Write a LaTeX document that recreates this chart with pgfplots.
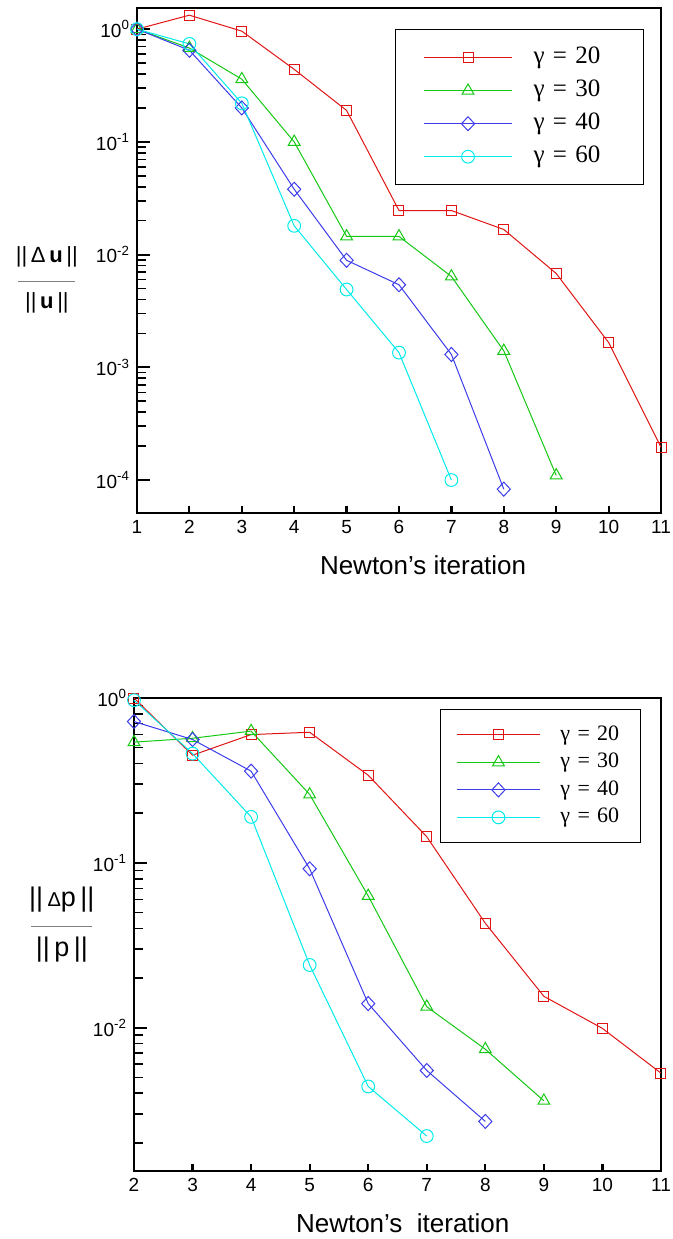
\documentclass[border=0pt]{standalone}
\usepackage{pgfplots}
\pgfplotsset{compat=1.18}
\usepackage{fontspec}
\setmainfont{Liberation Sans}
\newfontfamily\timesfont{Liberation Serif}
\definecolor{cRed}{RGB}{225,20,20}
\definecolor{cGreen}{RGB}{20,200,20}
\definecolor{cBlue}{RGB}{60,60,235}
\definecolor{cCyan}{RGB}{0,235,235}

\pgfplotsset{
  myaxis/.style={
    scale only axis, clip=false,
    axis line style={line width=1.1pt},
    tick pos=left, tick align=inside,
    major tick length=6.5pt, minor tick length=4.5pt,
    every major tick/.append style={black, line width=1.1pt},
    every minor tick/.append style={black, line width=0.8pt},
    yticklabel style={font=\fontsize{9.5}{11}\selectfont},
    legend cell align=left,
  },
  xonly/.style={
    scale only axis, hide y axis, axis x line*=bottom,
    x axis line style={draw=none},
    xtick align=inside, major tick length=3.3pt,
    every major tick/.append style={black, line width=1.1pt},
    xticklabel style={font=\fontsize{9.5}{11}\selectfont},
    /pgf/number format/assume math mode=true,
    ymin=0, ymax=1,
  },
  s20/.style={cRed, line width=0.5pt, mark=square, mark size=2.5pt, mark options={solid}},
  s30/.style={cGreen, line width=0.5pt, mark=triangle, mark size=3.4pt, mark options={solid}},
  s40/.style={cBlue, line width=0.5pt, mark=diamond, mark size=3.5pt, mark options={solid, xscale=1.25}},
  s60/.style={cCyan, line width=0.5pt, mark=o, mark size=3.2pt, mark options={solid}},
}

\begin{document}
\begin{tikzpicture}
\useasboundingbox (0,0) rectangle (336.5pt,-619.5pt);

% ---------------- top panel ----------------
\begin{axis}[ymode=log, myaxis, at={(68.5pt,-4pt)}, anchor=north west,
  width=262pt, height=252.5pt,
  xmin=1, xmax=11, ymin=5.1e-5, ymax=1.54, xtick=\empty,
  ytick={1e-4,1e-3,1e-2,1e-1,1},
  yticklabels={10\textsuperscript{-4},10\textsuperscript{-3},10\textsuperscript{-2},10\textsuperscript{-1},10\textsuperscript{0}},
  minor ytick={2e-4,3e-4,4e-4,5e-4,6e-4,7e-4,8e-4,9e-4,
               2e-3,3e-3,4e-3,5e-3,6e-3,7e-3,8e-3,9e-3,
               2e-2,3e-2,4e-2,5e-2,6e-2,7e-2,8e-2,9e-2,
               2e-1,3e-1,4e-1,5e-1,6e-1,7e-1,8e-1,9e-1},
  legend image code/.code={\draw[mark repeat=2,mark phase=2] plot coordinates {(0pt,0pt) (22pt,0pt) (44pt,0pt)};},
  legend style={at={(0.9676,0.958)}, anchor=north east, draw=black, line width=0.5pt,
    font=\timesfont\fontsize{12.5}{14}\selectfont,
    inner xsep=14pt, inner ysep=8pt, row sep=4.5pt, column sep=10.5pt,
    nodes={inner sep=0pt, text height=9pt, text depth=3pt, text width=41pt}},
]
\addplot[s20] coordinates {(1,1.0)(2,1.33)(3,0.96)(4,0.44)(5,0.19)(6,0.0246)(7,0.0246)(8,0.0167)(9,0.0068)(10,0.00166)(11,1.95e-4)};
\addlegendentry{γ = 20}
\addplot[s30] coordinates {(1,1.0)(2,0.68)(3,0.36)(4,0.10)(5,0.0145)(6,0.0145)(7,0.0064)(8,0.0014)(9,1.1e-4)};
\addlegendentry{γ = 30}
\addplot[s40] coordinates {(1,1.0)(2,0.65)(3,0.20)(4,0.038)(5,0.0089)(6,0.0054)(7,0.0013)(8,8.3e-5)};
\addlegendentry{γ = 40}
\addplot[s60] coordinates {(1,1.0)(2,0.74)(3,0.22)(4,0.018)(5,0.0049)(6,0.00135)(7,1.0e-4)};
\addlegendentry{γ = 60}
\node[align=center, font=\fontsize{11}{12}\selectfont, inner sep=0pt] at (rel axis cs:-0.172,0.461)
  {||\,Δ\,\textbf{u}\,||\\[0pt]\textcolor{gray}{\rule[2.5pt]{28.5pt}{0.4pt}}\\[-1pt]||\,\textbf{u}\,||};
\node[font=\fontsize{13}{15}\selectfont, yshift=-26pt] at (rel axis cs:0.546,0) {Newton’s iteration};
\end{axis}
\begin{axis}[xonly, at={(68.5pt,-4pt)}, anchor=north west,
  width=262pt, height=252.5pt, xmin=1, xmax=11, xtick={1,2,...,11}]
\end{axis}

% ---------------- bottom panel ----------------
\begin{axis}[ymode=log, myaxis, at={(67pt,-349pt)}, anchor=north west,
  width=263.5pt, height=236.5pt,
  xmin=2, xmax=11, ymin=1.35e-3, ymax=1, xtick=\empty,
  ytick={1e-2,1e-1,1},
  yticklabels={10\textsuperscript{-2},10\textsuperscript{-1},10\textsuperscript{0}},
  minor ytick={2e-3,3e-3,4e-3,5e-3,6e-3,7e-3,8e-3,9e-3,
               2e-2,3e-2,4e-2,5e-2,6e-2,7e-2,8e-2,9e-2,
               2e-1,3e-1,4e-1,5e-1,6e-1,7e-1,8e-1,9e-1},
  legend image code/.code={\draw[mark repeat=2,mark phase=2] plot coordinates {(0pt,0pt) (20.75pt,0pt) (41.5pt,0pt)};},
  legend style={at={(0.962,0.977)}, anchor=north east, draw=black, line width=0.5pt,
    font=\timesfont\fontsize{11}{12}\selectfont,
    inner xsep=8pt, inner ysep=7.5pt, row sep=3.25pt, column sep=10pt,
    nodes={inner sep=0pt, text height=8pt, text depth=2.5pt, text width=32pt}},
]
\addplot[s20] coordinates {(2,1.0)(3,0.45)(4,0.60)(5,0.62)(6,0.34)(7,0.144)(8,0.043)(9,0.0155)(10,0.0099)(11,0.0053)};
\addlegendentry{γ = 20}
\addplot[s30] coordinates {(2,0.54)(3,0.57)(4,0.63)(5,0.26)(6,0.063)(7,0.0134)(8,0.0074)(9,0.0036)};
\addlegendentry{γ = 30}
\addplot[s40] coordinates {(2,0.72)(3,0.56)(4,0.36)(5,0.092)(6,0.014)(7,0.0055)(8,0.0027)};
\addlegendentry{γ = 40}
\addplot[s60] coordinates {(2,0.97)(3,0.46)(4,0.19)(5,0.024)(6,0.0044)(7,0.0022)};
\addlegendentry{γ = 60}
\node[align=center, font=\fontsize{13.5}{14}\selectfont, inner sep=0pt] at (rel axis cs:-0.137,0.522)
  {||\,{\fontsize{10}{10}\selectfont Δ}p\,||\\[-1pt]\textcolor{gray}{\rule[2.5pt]{30.5pt}{0.4pt}}\\[-2pt]||\,p\,||};
\node[font=\fontsize{13}{15}\selectfont, yshift=-26pt] at (rel axis cs:0.51,0) {Newton’s\ \ iteration};
\end{axis}
\begin{axis}[xonly, at={(67pt,-349pt)}, anchor=north west,
  width=263.5pt, height=236.5pt, xmin=2, xmax=11, xtick={2,3,...,11}]
\end{axis}
\end{tikzpicture}
\end{document}
